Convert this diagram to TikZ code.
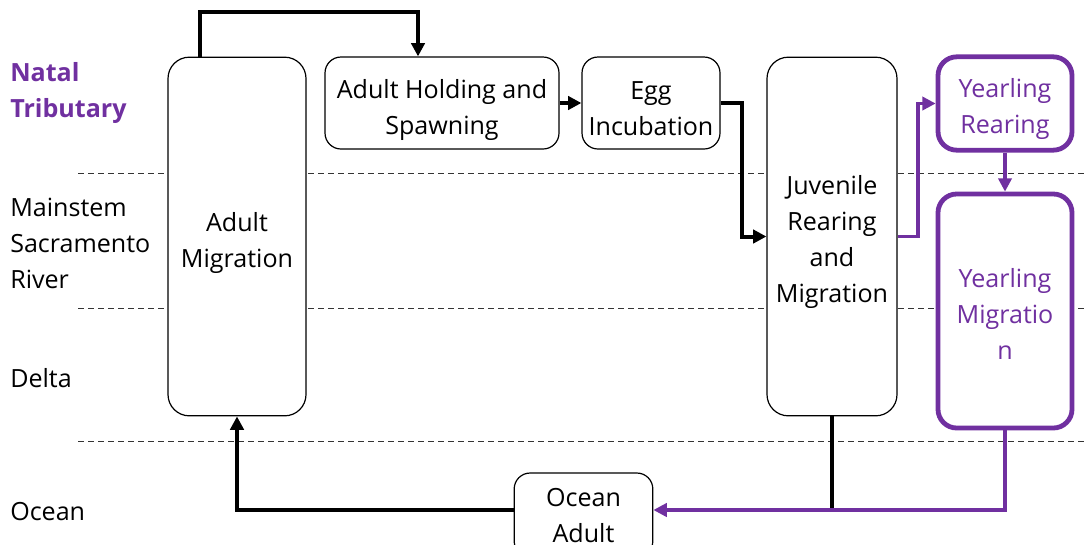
\documentclass[tikz,border=0pt]{standalone}
\usepackage{fontspec}
\setmainfont{Open Sans}
\usetikzlibrary{arrows.meta}
\definecolor{pur}{HTML}{7030A0}
\begin{document}
\begin{tikzpicture}[x=0.75pt,y=-0.75pt,
  box/.style={draw=black,line width=0.9pt,fill=white,rounded corners=12pt,inner sep=0pt},
  pbox/.style={box,draw=pur,line width=3.6pt,rounded corners=14pt},
  txt/.style={align=center,inner sep=0pt,font=\fontsize{18.8}{27}\selectfont,yshift=-4pt},
  ptxt/.style={txt,text=pur},
  blk/.style={line width=3pt,black},
  purl/.style={line width=2.3pt,pur},
  tip/.style={-{Triangle[length=10pt,width=10pt]}},
  lbl/.style={anchor=west,align=left,inner sep=0pt,font=\fontsize{18.8}{27}\selectfont},
  sep/.style={dashed,dash pattern=on 4.5pt off 3pt,line width=0.7pt,black!80}]
\useasboundingbox (0,0) rectangle (1084,544);
% lane separators
\draw[sep] (78,173) -- (1084,173);
\draw[sep] (78,308) -- (1084,308);
\draw[sep] (78,441) -- (1084,441);
% lane labels
\node[lbl,text=pur,font=\bfseries\fontsize{18.8}{27}\selectfont] (lnat) at (10,93) {Natal\\Tributary};
\node[lbl] (lmain) at (10,243) {Mainstem\\Sacramento\\River};
\node[lbl] (ldel) at (10,378) {Delta};
\node[lbl] (locn) at (10,512) {Ocean};
% boxes
\node[box,rounded corners=16pt,minimum width=103.5pt,minimum height=269pt,
  label={[txt,yshift=-0.5pt]center:Adult\\Migration}] (am) at (237,236.5) {};
\node[box,minimum width=175.5pt,minimum height=69pt,
  label={[txt,yshift=-1pt]center:Adult Holding and\\Spawning}] (ahs) at (442,103) {};
\node[box,minimum width=103.5pt,minimum height=69pt,
  label={[txt]center:Egg\\Incubation}] (egg) at (651,103) {};
\node[box,rounded corners=16pt,minimum width=97.5pt,minimum height=269pt,
  label={[txt]center:Juvenile\\Rearing\\and\\Migration}] (juv) at (832,236.5) {};
\node[pbox,minimum width=100.5pt,minimum height=70pt,
  label={[ptxt]center:Yearling\\Rearing}] (yr) at (1005,103.5) {};
\node[pbox,minimum width=100.5pt,minimum height=175.5pt,
  label={[ptxt,yshift=2pt]center:Yearling\\Migratio\\n}] (ym) at (1005,311) {};
\node[box,minimum width=104pt,minimum height=63pt,
  label={[txt,yshift=3.3pt]center:Ocean\\Adult}] (oa) at (583.5,515) {};
% connectors
\coordinate (t1) at (200,12);
\coordinate (t2) at (418,12);
\coordinate (e1) at (742,103);
\coordinate (p1) at (918,0);
\coordinate (bot) at (0,510);
\draw[blk,tip] (t1 |- am.north) -- (t1) -- (t2) -- (t2 |- ahs.north);
\draw[blk,tip] (ahs.east) -- (egg.west);
\draw[blk,tip] (egg.east) -- (e1) |- (juv.west);
\draw[purl,tip] (juv.east) -- (juv.east -| p1) |- (yr.west);
\draw[purl,tip] (yr.south) -- (ym.north);
\draw[blk] (juv.south) -- (juv.south |- bot);
\draw[purl,tip] (ym.south) |- ([yshift=3.75pt]oa.east);
\draw[blk,tip] ([yshift=3.75pt]oa.west) -| (am.south);
\end{tikzpicture}
\end{document}
